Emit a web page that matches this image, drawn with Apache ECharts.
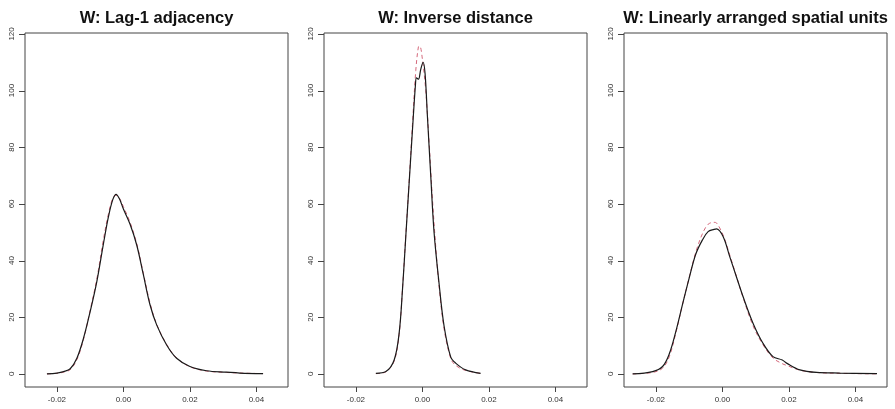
<!DOCTYPE html>
<html>
<head>
<meta charset="utf-8">
<script src="https://cdn.jsdelivr.net/npm/echarts@6/dist/echarts.min.js"></script>
<style>
  html, body { margin: 0; padding: 0; background: #fff; }
  #chart { width: 895px; height: 409px; }
</style>
</head>
<body>
<div id="chart"></div>
<script>
// panel titles
const titles = ['W: Lag-1 adjacency', 'W: Inverse distance', 'W: Linearly arranged spatial units'];
const xTicks = [-0.02, 0, 0.02, 0.04];
const yTicks = [0, 20, 40, 60, 80, 100, 120];

// Lag-1 adjacency: solid (black) and dashed (red) density curves
const lagX = [-0.023, -0.020, -0.018, -0.016, -0.014, -0.012, -0.010, -0.008, -0.006, -0.0045, -0.0032, -0.0022, -0.0012, 0.000, 0.002, 0.004, 0.006, 0.008, 0.010, 0.013, 0.016, 0.020, 0.025, 0.031, 0.035, 0.042];
const lagSolid = [0, 0.3, 0.8, 1.8, 5.5, 12.6, 22, 32.6, 46, 55.5, 61.5, 63.4, 61.8, 58.2, 52.8, 45.5, 35, 24.4, 17.3, 10.2, 5.5, 2.6, 1.1, 0.6, 0.3, 0.1];
const lagDashed = [0, 0.2, 0.6, 1.5, 5.0, 12.2, 22.5, 33.5, 47.5, 56.5, 62, 63, 62, 59, 53.5, 46, 35.5, 25, 17.5, 10.4, 5.6, 2.5, 1.0, 0.5, 0.3, 0.1];

// Inverse distance
const invSolidX = [-0.014, -0.011, -0.0085, -0.007, -0.006, -0.005, -0.004, -0.003, -0.0021, -0.0018, -0.0012, -0.0005, 0.0002, 0.0008, 0.0015, 0.0025, 0.0035, 0.005, 0.0065, 0.0085, 0.010, 0.013, 0.0175];
const invSolid = [0.2, 0.8, 4.9, 14.4, 29.6, 48.5, 67.3, 86, 102, 104.5, 104, 107.5, 110, 106, 91, 70, 50, 32, 17, 6, 3.8, 1.4, 0.2];
const invDashedX = [-0.014, -0.011, -0.0085, -0.007, -0.006, -0.005, -0.004, -0.003, -0.002, -0.0012, -0.0008, 0.000, 0.001, 0.002, 0.003, 0.004, 0.005, 0.0065, 0.0085, 0.010, 0.013, 0.018];
const invDashed = [0.1, 0.7, 4.5, 14, 30, 49, 68, 88, 107, 115.5, 115.7, 111, 100, 82, 62, 45, 31, 16, 5.5, 3, 1.2, 0.1];

// Linearly arranged spatial units
const linX = [-0.027, -0.021, -0.018, -0.016, -0.014, -0.012, -0.010, -0.008, -0.006, -0.0043, -0.0025, -0.0018, 0.0002, 0.0022, 0.0042, 0.0062, 0.0092, 0.0122, 0.0152, 0.018, 0.0193, 0.0233, 0.0283, 0.0353, 0.0465];
const linSolid = [0, 0.8, 2.6, 7.0, 15, 24.5, 33.8, 42.3, 47.3, 50.2, 51.0, 51.2, 48.5, 41.4, 34.3, 27.3, 17.9, 10.8, 6.1, 4.9, 3.8, 1.4, 0.5, 0.3, 0.1];
const linDashed = [0, 0.5, 2.0, 6.0, 14.5, 24.5, 34, 43, 49.5, 52.8, 53.5, 53.3, 49, 42, 34.5, 27, 17, 10.3, 5.6, 3.6, 3.0, 1.3, 0.5, 0.2, 0];

const solidColor = '#1a1a1a';
const dashedColor = '#d4677a';
const axisColor = '#444';
const xMin = -0.0296, xMax = 0.0495;
const yMin = -4.63, yMax = 120.33;

const panels = [
    { left: 25, title: titles[0], solid: [lagX, lagSolid], dashed: [lagX, lagDashed] },
    { left: 324, title: titles[1], solid: [invSolidX, invSolid], dashed: [invDashedX, invDashed] },
    { left: 624, title: titles[2], solid: [linX, linSolid], dashed: [linX, linDashed] },
];

const pairs = (xs, ys) => xs.map((x, i) => [x, ys[i]]);

const chart = echarts.init(document.getElementById('chart'));
chart.setOption({
    animation: false,
    title: panels.map(p => ({
        text: p.title,
        left: p.left + 126.5,
        textAlign: 'center',
        top: 5,
        textStyle: { fontFamily: 'Liberation Sans', fontWeight: 'bold', fontSize: 16.5, color: '#111' },
    })),
    grid: panels.map(p => ({
        left: p.left, top: 33, width: 263, height: 354,
        show: true, borderColor: axisColor, borderWidth: 1, backgroundColor: 'transparent',
    })),
    xAxis: panels.map((p, i) => ({
        type: 'value',
        gridIndex: i,
        min: xMin, max: xMax,
        splitLine: { show: false },
        axisLine: { show: false, onZero: false },
        axisTick: { show: false },
        axisLabel: {
            customValues: xTicks, margin: 9, fontSize: 8, color: '#333', fontFamily: 'Liberation Sans',
            formatter: v => v.toFixed(2),
        },
    })),
    yAxis: panels.map((p, i) => ({
        type: 'value',
        gridIndex: i,
        min: yMin, max: yMax,
        splitLine: { show: false },
        axisLine: { show: false, onZero: false },
        axisTick: { show: false },
        axisLabel: {
            customValues: yTicks, rotate: 90, margin: 9, fontSize: 8, color: '#333', fontFamily: 'Liberation Sans',
        },
    })),
    series: panels.flatMap((p, i) => [
        {
            type: 'line', xAxisIndex: i, yAxisIndex: i,
            data: pairs(p.solid[0], p.solid[1]),
            smooth: 0.35, showSymbol: false,
            lineStyle: { color: solidColor, width: 1.2 },
            z: 3,
        },
        {
            type: 'line', xAxisIndex: i, yAxisIndex: i,
            data: pairs(p.dashed[0], p.dashed[1]),
            smooth: 0.35, showSymbol: false,
            lineStyle: { color: dashedColor, width: 1, type: [4, 3] },
            z: 2,
        },
    ]),
});

// R-style outward ticks, positioned through each grid's own scales
const tickLine = (x1, y1, x2, y2) => ({
    type: 'line', silent: true, z: 10,
    shape: { x1, y1, x2, y2 },
    style: { stroke: axisColor, lineWidth: 1 },
});
const ticks = [];
panels.forEach((p, i) => {
    yTicks.forEach(v => {
        const pt = chart.convertToPixel({ gridIndex: i }, [xMin, v]);
        const y = Math.round(pt[1]) + 0.5;
        ticks.push(tickLine(pt[0] - 6, y, pt[0], y));
    });
    xTicks.forEach(v => {
        const pt = chart.convertToPixel({ gridIndex: i }, [v, yMin]);
        const x = Math.round(pt[0]) + 0.5;
        ticks.push(tickLine(x, pt[1], x, pt[1] + 5));
    });
});
chart.setOption({ graphic: ticks });
</script>
</body>
</html>
